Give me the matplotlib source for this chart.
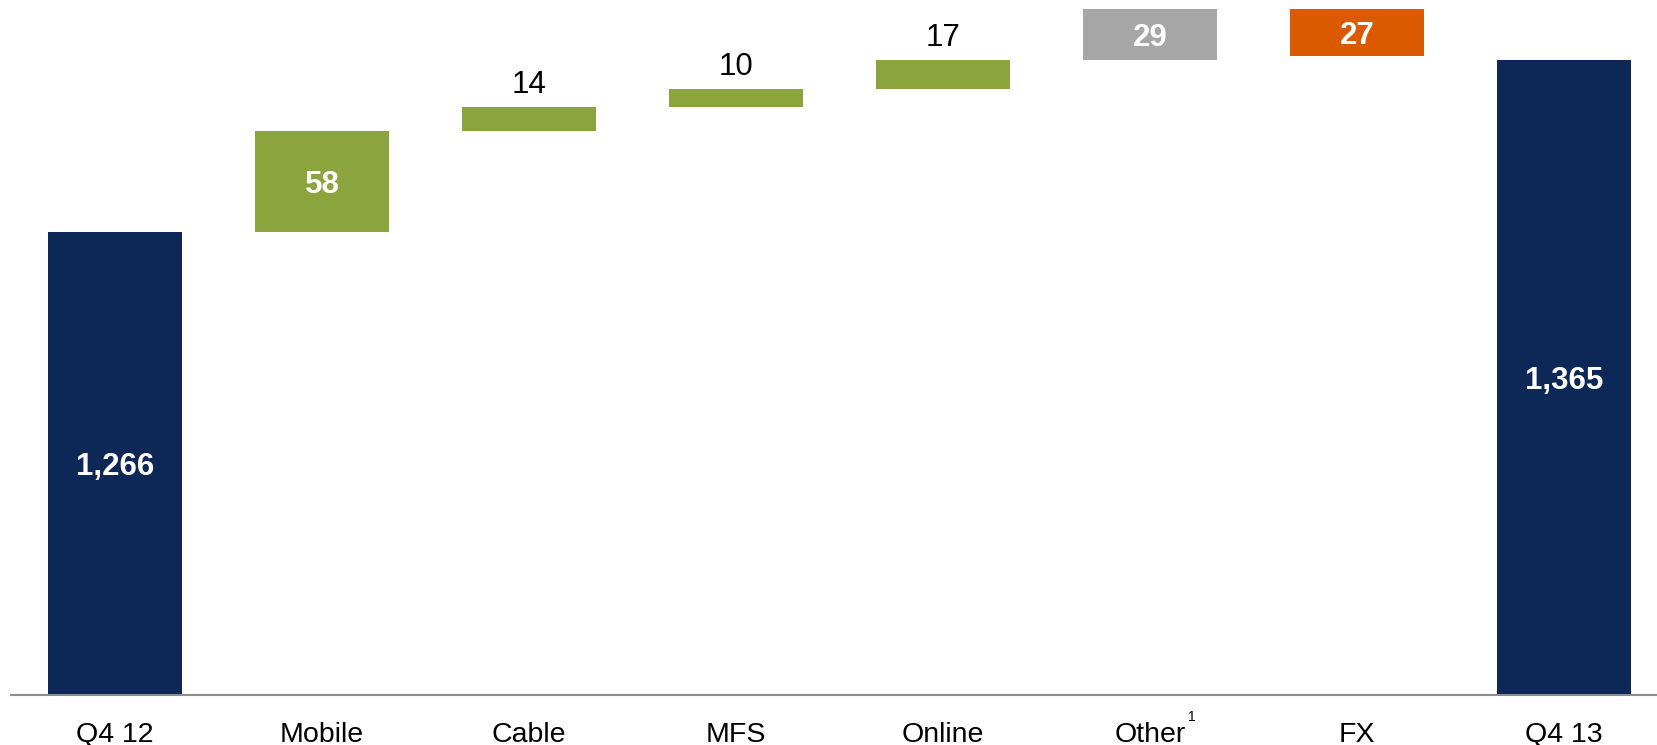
import matplotlib
matplotlib.use("Agg")
import matplotlib.pyplot as plt
import numpy as np

plt.rcParams["font.family"] = ["Liberation Sans", "DejaVu Sans"]

# Revenue bridge, Q4 12 -> Q4 13
categories = ["Q4 12", "Mobile", "Cable", "MFS", "Online", "Other", "FX", "Q4 13"]
start_total = 1266
end_total = 1365
changes = [58, 14, 10, 17, 29, -27]

NAVY = "#0D2757"
GREEN = "#8BA43E"
GREY = "#A6A6A6"
ORANGE = "#DB5A00"
change_colors = [GREEN, GREEN, GREEN, GREEN, GREY, ORANGE]

fig = plt.figure(figsize=(16.57, 7.45), dpi=100)
ax = fig.add_axes([11 / 1657, 50 / 745, 1 - 11 / 1657, 695 / 745])

x = np.arange(len(categories))
width = 0.645

# totals
ax.bar(x[0], start_total - 1000, bottom=1000, width=width, color=NAVY, linewidth=0)
ax.bar(x[-1], end_total - 1000, bottom=1000, width=width, color=NAVY, linewidth=0)

# floating steps
level = start_total
for i, (d, c) in enumerate(zip(changes, change_colors), start=1):
    bottom = level if d >= 0 else level + d
    ax.bar(x[i], abs(d), bottom=bottom, width=width, color=c, linewidth=0)
    top = bottom + abs(d)
    if abs(d) >= 20:
        ax.text(x[i], bottom + abs(d) / 2, f"{abs(d)}", ha="center", va="center_baseline",
                color="white", fontsize=22.5, fontweight="bold")
    else:
        ax.annotate(f"{abs(d)}", xy=(x[i], top), xytext=(0, 10), textcoords="offset points",
                    ha="center", va="baseline", color="black", fontsize=22.5)
    level += d

for xi, tot in ((x[0], start_total), (x[-1], end_total)):
    ax.text(xi, 1000 + (tot - 1000) / 2, f"{tot:,}", ha="center", va="center_baseline",
            color="white", fontsize=22.5, fontweight="bold")

# category labels under the axis
for xi, name in zip(x, categories):
    ax.annotate(name, xy=(xi, 0), xycoords=("data", "axes fraction"),
                xytext=(0, -33.5), textcoords="offset points",
                ha="center", va="baseline", fontsize=20.5, color="black")
# footnote marker on "Other"
ax.annotate("1", xy=(x[5], 0), xycoords=("data", "axes fraction"),
            xytext=(30, -19), textcoords="offset points",
            ha="center", va="baseline", fontsize=10, color="black")

ax.set_xlim(-0.503, 7.449)
ax.set_ylim(1000, 1399.2)
ax.set_xticks([])
ax.set_yticks([])
for s in ("top", "right", "left"):
    ax.spines[s].set_visible(False)
ax.spines["bottom"].set_color("#8C8C8C")
ax.spines["bottom"].set_linewidth(1.5)

fig.savefig("out.png", dpi=100)
